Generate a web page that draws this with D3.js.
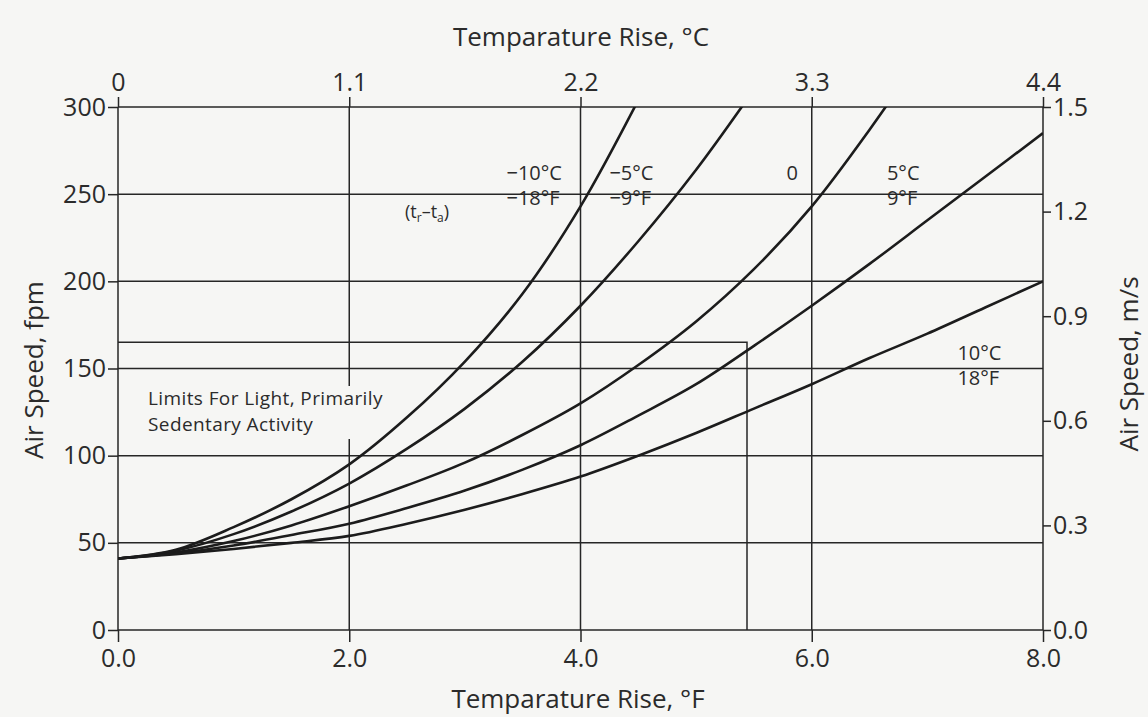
<!DOCTYPE html>
<html>
<head>
<meta charset="utf-8">
<script src="https://cdn.jsdelivr.net/npm/d3@7"></script>
<style>
  html, body { margin: 0; padding: 0; background: #f6f6f4; }
  svg { display: block; }
  text { font-family: "Open Sans", "Noto Sans", sans-serif; fill: #2b2b2b; }
</style>
</head>
<body>
<script>
// Temperature rise (°F) at which each curve is sampled
const riseF = [0, 0.5, 1, 1.5, 2, 2.5, 3, 3.5, 4, 4.5, 5, 5.5, 6, 6.5, 7, 7.5, 8];

// Air speed (fpm) for each radiant/air temperature difference (t_r − t_a)
const speedMinus10C = [41, 46, 59, 75, 95, 122, 154, 193, 243, 304];
const speedMinus5C  = [41, 45.5, 55, 68, 84, 104, 127, 154, 186, 223, 264, 310];
const speedZero     = [41, 44.5, 51, 60, 71, 83, 96, 112, 130, 152, 177, 207, 243, 287, 335];
const speedPlus5C   = [41, 44, 48.5, 54.5, 61, 70, 80, 92, 106, 123, 141, 163, 186, 210, 235, 260, 285];
const speedPlus10C  = [41, 43.5, 46.5, 50, 54, 61, 69, 78, 88, 100, 113, 127, 141, 156, 170, 185, 200];

// Axis ticks
const ticksF   = [0, 2, 4, 6, 8];
const ticksC   = [0, 1.1, 2.2, 3.3, 4.4];
const ticksFpm = [0, 50, 100, 150, 200, 250, 300];
const ticksMs  = [0, 0.3, 0.6, 0.9, 1.2, 1.5];

// Limits for light, primarily sedentary activity
const limitRiseF = 5.44;
const limitSpeed = 165;
const limitText = ["Limits For Light, Primarily", "Sedentary Activity"];

// Curve labels: upper and lower line, anchor point (°F, fpm)
const curveLabels = [
  { top: "\u221210\u00B0C", bottom: "\u221218\u00B0F", at: [3.36, 258] },
  { top: "\u22125\u00B0C",  bottom: "\u22129\u00B0F",  at: [4.25, 258] },
  { top: "0",               bottom: "",                at: [5.83, 258], center: true },
  { top: "5\u00B0C",        bottom: "9\u00B0F",        at: [6.65, 258] },
  { top: "10\u00B0C",       bottom: "18\u00B0F",       at: [7.26, 155] }
];

const W = 1148, H = 717;
const svg = d3.select("body").append("svg").attr("width", W).attr("height", H);
svg.append("rect").attr("width", W).attr("height", H).attr("fill", "#f6f6f4");

const x  = d3.scaleLinear().domain([0, 8]).range([118, 1043]);
const xC = d3.scaleLinear().domain([0, 4.4]).range([118, 1043]);
const y  = d3.scaleLinear().domain([0, 300]).range([630, 107]);
const yM = d3.scaleLinear().domain([0, 1.5]).range([630, 107]);

const ink = "#262626";

// Grid
const grid = svg.append("g").attr("stroke", ink).attr("stroke-width", 1.5);
grid.selectAll("line.h").data(ticksFpm).join("line")
  .attr("x1", x(0)).attr("x2", x(8))
  .attr("y1", d => y(d)).attr("y2", d => y(d));
grid.selectAll("line.v").data(ticksF).join("line")
  .attr("x1", d => x(d)).attr("x2", d => x(d))
  .attr("y1", y(300)).attr("y2", y(0));

// Limits box
svg.append("path")
  .attr("d", `M${x(0)},${y(limitSpeed)}H${x(limitRiseF)}V${y(0)}`)
  .attr("fill", "none").attr("stroke", ink).attr("stroke-width", 1.5);

// Axes
function styleAxis(g, size) {
  g.select(".domain").remove();
  g.selectAll(".tick line").attr("stroke", ink).attr("stroke-width", 1.5);
  g.selectAll(".tick text").attr("font-size", size).attr("fill", "#2b2b2b")
    .style("font-family", "'Open Sans', 'Noto Sans', sans-serif");
}
svg.append("g").attr("transform", `translate(0,${y(0)})`)
  .call(d3.axisBottom(x).tickValues(ticksF).tickFormat(d3.format(".1f")).tickSize(12).tickPadding(7))
  .call(g => styleAxis(g, 25));
svg.append("g").attr("transform", `translate(0,${y(300)})`)
  .call(d3.axisTop(xC).tickValues(ticksC).tickFormat(d => d === 0 ? "0" : d3.format(".1f")(d)).tickSize(10).tickPadding(6))
  .call(g => styleAxis(g, 25));
svg.append("g").attr("transform", `translate(${x(0)},0)`)
  .call(d3.axisLeft(y).tickValues(ticksFpm).tickSize(10).tickPadding(2))
  .call(g => styleAxis(g, 25));
svg.append("g").attr("transform", `translate(${x(8)},0)`)
  .call(d3.axisRight(yM).tickValues(ticksMs).tickFormat(d3.format(".1f")).tickSize(8).tickPadding(2))
  .call(g => styleAxis(g, 25));

// Axis titles
svg.append("text").attr("x", 581).attr("y", 46).attr("text-anchor", "middle")
  .attr("font-size", 26).text("Temparature Rise, \u00B0C");
svg.append("text").attr("x", 578).attr("y", 708).attr("text-anchor", "middle")
  .attr("font-size", 26).text("Temparature Rise, \u00B0F");
svg.append("text").attr("transform", "translate(43,370) rotate(-90)").attr("text-anchor", "middle")
  .attr("font-size", 26).text("Air Speed, fpm");
svg.append("text").attr("transform", "translate(1138,364) rotate(-90)").attr("text-anchor", "middle")
  .attr("font-size", 26).text("Air Speed, m/s");

// Limits label (with a backing so the grid line stops behind it)
svg.append("rect").attr("x", 142).attr("y", 386).attr("width", 248).attr("height", 53)
  .attr("fill", "#f6f6f4");
svg.append("g").attr("font-size", 19).attr("letter-spacing", 0.4)
  .selectAll("text").data(limitText).join("text")
  .attr("x", 148).attr("y", (d, i) => 405 + i * 26)
  .text(d => d);

// (t_r − t_a)
const tt = svg.append("text").attr("x", 405).attr("y", 218).attr("font-size", 18);
tt.append("tspan").text("(t");
tt.append("tspan").attr("font-size", 12).attr("dy", 4).text("r");
tt.append("tspan").attr("dy", -4).text("\u2013t");
tt.append("tspan").attr("font-size", 12).attr("dy", 4).text("a");
tt.append("tspan").attr("dy", -4).text(")");

// Curves
svg.append("clipPath").attr("id", "plot")
  .append("rect").attr("x", x(0)).attr("y", y(300)).attr("width", x(8) - x(0)).attr("height", y(0) - y(300));

const series = [speedMinus10C, speedMinus5C, speedZero, speedPlus5C, speedPlus10C];
const line = d3.line()
  .x((d, i) => x(riseF[i]))
  .y(d => y(d))
  .curve(d3.curveCatmullRom.alpha(0.5));

svg.append("g").attr("clip-path", "url(#plot)")
  .selectAll("path").data(series).join("path")
  .attr("d", d => line(d))
  .attr("fill", "none").attr("stroke", "#1c1c1c").attr("stroke-width", 2.6)
  .attr("stroke-linejoin", "round");

// Curve labels
const cl = svg.append("g").attr("font-size", 20);
curveLabels.forEach(l => {
  cl.append("text")
    .attr("text-anchor", l.center ? "middle" : "start")
    .attr("x", x(l.at[0])).attr("y", y(l.at[1]))
    .text(l.top);
  if (l.bottom) {
    cl.append("text").attr("x", x(l.at[0])).attr("y", y(l.at[1]) + 25).text(l.bottom);
  }
});
</script>
</body>
</html>
